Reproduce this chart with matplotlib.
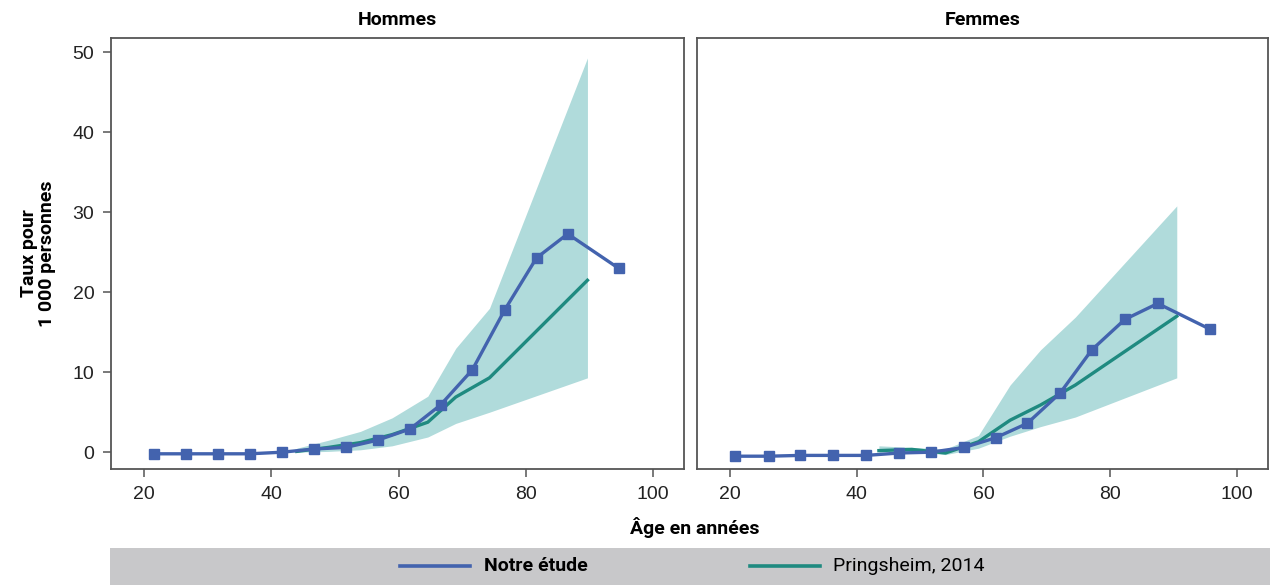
import matplotlib
matplotlib.use("Agg")
import matplotlib.pyplot as plt
from matplotlib.patches import Rectangle
from matplotlib.lines import Line2D

# Notre étude: taux par âge
age_h = [21.6, 26.6, 31.6, 36.6, 41.7, 46.7, 51.7, 56.7, 61.8, 66.6, 71.6, 76.7, 81.7, 86.6, 94.6]
taux_h = [-0.2, -0.2, -0.2, -0.2, 0.0, 0.4, 0.6, 1.5, 2.9, 5.9, 10.3, 17.8, 24.3, 27.3, 23.0]
age_f = [20.8, 26.1, 31.1, 36.2, 41.5, 46.7, 51.7, 57.0, 61.9, 66.9, 72.1, 77.1, 82.3, 87.5, 95.7]
taux_f = [-0.5, -0.5, -0.4, -0.4, -0.4, -0.1, 0.0, 0.6, 1.8, 3.6, 7.4, 12.8, 16.6, 18.6, 15.4]

# Pringsheim, 2014 avec intervalle
age_p_h = [44, 49, 54, 59, 64.6, 69, 74.3, 89.7]
pring_h = [0.1, 0.6, 1.2, 2.2, 3.75, 6.9, 9.3, 21.5]
bas_h = [0.0, 0.1, 0.3, 0.8, 1.9, 3.6, 5.0, 9.3]
haut_h = [0.5, 1.5, 2.6, 4.3, 7.0, 13.0, 18.0, 49.3]

age_p_f = [43.5, 48.7, 54, 59.2, 64.2, 69, 74.5, 90.5]
pring_f = [0.2, 0.35, -0.1, 1.3, 4.0, 5.9, 8.4, 17.0]
bas_f = [0.0, 0.1, -0.3, 0.5, 2.0, 3.2, 4.4, 9.3]
haut_f = [0.8, 0.6, 0.4, 2.1, 8.4, 12.8, 16.9, 30.8]

titres = ["Hommes", "Femmes"]
xticks = [20, 40, 60, 80, 100]
yticks = [0, 10, 20, 30, 40, 50]

bleu = "#4363ae"
vert = "#1f8a80"
bande = "#b0dbdb"
gris = "#555555"
narrow = ["Roboto", "DejaVu Sans"]

plt.rcParams["font.family"] = ["Liberation Sans", "DejaVu Sans"]

fig = plt.figure(figsize=(12.78, 5.85), dpi=100)
ax1 = fig.add_axes([0.0869, 0.1983, 0.4484, 0.7368])
ax2 = fig.add_axes([0.5454, 0.1983, 0.4468, 0.7368])

donnees = [
    (ax1, age_h, taux_h, age_p_h, pring_h, bas_h, haut_h),
    (ax2, age_f, taux_f, age_p_f, pring_f, bas_f, haut_f),
]

for i, (ax, a, t, ap, p, lo, hi) in enumerate(donnees):
    ax.fill_between(ap, lo, hi, color=bande, lw=0, zorder=1)
    ax.plot(ap, p, color=vert, lw=2.4, zorder=2)
    ax.plot(a, t, color=bleu, lw=2.4, marker="s", ms=7, zorder=3)
    ax.set_xlim(14.8, 104.9)
    ax.set_ylim(-2.1, 51.8)
    ax.set_xticks(xticks)
    ax.set_yticks(yticks)
    for s in ax.spines.values():
        s.set_color(gris)
        s.set_linewidth(1.3)
    ax.tick_params(colors=gris, labelcolor="#222222", labelsize=14, length=6, width=1.1, pad=6)
    ax.set_title(titres[i], fontsize=14, fontweight="bold", family=narrow, pad=9)
    if i == 1:
        ax.tick_params(axis="y", left=False, labelleft=False)

ax1.set_ylabel("Taux pour\n1 000 personnes", fontsize=14, fontweight="bold",
               family=narrow, linespacing=1.0, labelpad=12)
fig.text(0.544, 0.098, "Âge en années", ha="center", va="center",
         fontsize=14, fontweight="bold", family=narrow)

# bandeau de légende
fig.patches.append(Rectangle((0.086, 0.0), 0.908, 0.063, transform=fig.transFigure,
                             color="#c8c8ca", lw=0, zorder=0))
yl = 0.0325
fig.lines.append(Line2D([0.313, 0.368], [yl, yl], transform=fig.transFigure, color=bleu, lw=2.6))
fig.text(0.379, yl, "Notre étude", va="center", fontsize=14, fontweight="bold", family=narrow)
fig.lines.append(Line2D([0.587, 0.642], [yl, yl], transform=fig.transFigure, color=vert, lw=2.6))
fig.text(0.652, yl, "Pringsheim, 2014", va="center", fontsize=14, family=narrow)

fig.savefig("out.png", dpi=100)
